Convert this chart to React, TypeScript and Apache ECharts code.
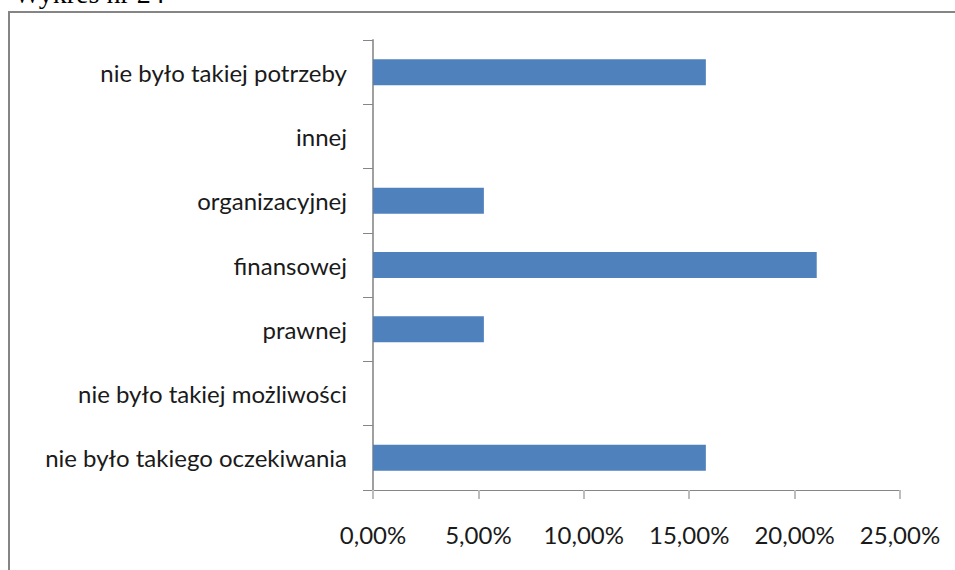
import React, { useEffect, useRef } from "react";
import * as echarts from "echarts";

const categories = [
  "nie było takiego oczekiwania",
  "nie było takiej możliwości",
  "prawnej",
  "finansowej",
  "organizacyjnej",
  "innej",
  "nie było takiej potrzeby",
];
const values = [15.79, 0, 5.26, 21.05, 5.26, 0, 15.79];
const xTicks = { min: 0, max: 25, interval: 5 };
const titleText = "Wykres nr 24";

export default function App() {
  const ref = useRef<HTMLDivElement>(null);
  useEffect(() => {
    if (!ref.current) return;
    const chart = echarts.init(ref.current, undefined, { renderer: "svg" });
    const font = "Lato, 'Open Sans', sans-serif";
    chart.setOption({
      animation: false,
      backgroundColor: "#ffffff",
      grid: { left: 373, top: 40, right: 55, bottom: 80, containLabel: false },
      xAxis: {
        type: "value",
        min: xTicks.min,
        max: xTicks.max,
        interval: xTicks.interval,
        axisLine: { show: true, lineStyle: { color: "#868686", width: 1 } },
        axisTick: { show: true, length: 9, lineStyle: { color: "#bdbdbd", width: 2 } },
        splitLine: { show: false },
        axisLabel: {
          margin: 32,
          color: "#1a1a1a",
          fontFamily: font,
          fontSize: 24,
          formatter: (v: number) => v.toFixed(2).replace(".", ",") + "%",
        },
      },
      yAxis: {
        type: "category",
        data: categories,
        axisLine: { show: true, lineStyle: { color: "#a0a0a0", width: 2 } },
        axisTick: { show: true, length: 10, lineStyle: { color: "#868686", width: 1 } },
        axisLabel: {
          margin: 26,
          color: "#1a1a1a",
          fontFamily: font,
          fontSize: 24,
        },
      },
      series: [
        {
          type: "bar",
          data: values,
          barWidth: 26,
          itemStyle: { color: "#4f81bd" },
        },
      ],
      graphic: [
        {
          type: "rect",
          shape: { x: 9, y: 12, width: 1000, height: 600 },
          style: { fill: "none", stroke: "#858585", lineWidth: 2 },
          z: 10,
        },
        {
          type: "text",
          x: 14,
          y: 7,
          style: {
            text: titleText,
            font: "28px 'Liberation Serif', serif",
            fill: "#000",
            textVerticalAlign: "bottom",
          },
        },
      ],
    });
    return () => chart.dispose();
  }, []);
  return (
    <div
      ref={ref}
      style={{ position: "fixed", left: 0, top: 0, width: 955, height: 570 }}
    />
  );
}
